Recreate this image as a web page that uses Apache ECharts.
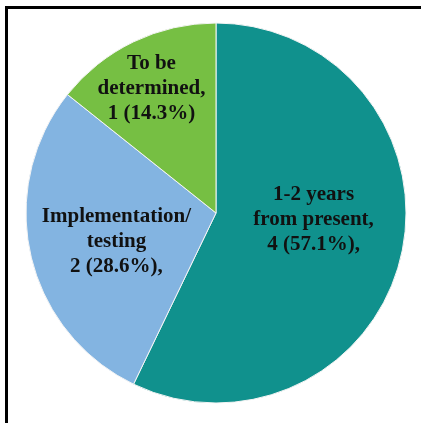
<!DOCTYPE html>
<html>
<head>
<meta charset="utf-8">
<script src="https://cdn.jsdelivr.net/npm/echarts@6/dist/echarts.min.js"></script>
<style>
  html, body { margin: 0; padding: 0; background: #fff; }
  #chart { position: absolute; left: 0; top: 0; width: 421px; height: 423px; }
  #frame { position: absolute; left: 5px; top: 6px; width: 420px; height: 420px;
           border-top: 3px solid #000; border-left: 3px solid #000; pointer-events: none; }
</style>
</head>
<body>
<div id="chart"></div>
<div id="frame"></div>
<script>
// Project timeline categories and counts
const categories = ['1-2 years\nfrom present,', 'Implementation/\ntesting', 'To be\ndetermined,'];
const counts = [4, 2, 1];
const labelSuffix = [',', ',', ''];

// Slice colours and label nudges
const colors = ['#10918D', '#83B4E1', '#76BF43'];
const labelOffsets = [[2, -15], [-4, 7], [-22, -36]];

const data = categories.map((name, i) => ({
  name: name,
  value: counts[i],
  itemStyle: { color: colors[i] },
  label: { offset: labelOffsets[i] }
}));

const chart = echarts.init(document.getElementById('chart'), null, { renderer: 'canvas' });
chart.setOption({
  animation: false,
  series: [{
    type: 'pie',
    center: [216, 213],
    radius: [0, 190],
    startAngle: 90,
    clockwise: true,
    data: data,
    itemStyle: { borderColor: '#f4f4f4', borderWidth: 1 },
    label: {
      show: true,
      position: 'inside',
      fontFamily: "'Liberation Serif', 'DejaVu Serif', serif",
      fontWeight: 'bold',
      fontSize: 21,
      lineHeight: 25,
      color: '#111',
      align: 'center',
      formatter: p => p.name + '\n' + p.value + ' (' + p.percent.toFixed(1) + '%)' + labelSuffix[p.dataIndex]
    },
    labelLine: { show: false },
    emphasis: { disabled: true }
  }]
});
</script>
</body>
</html>
